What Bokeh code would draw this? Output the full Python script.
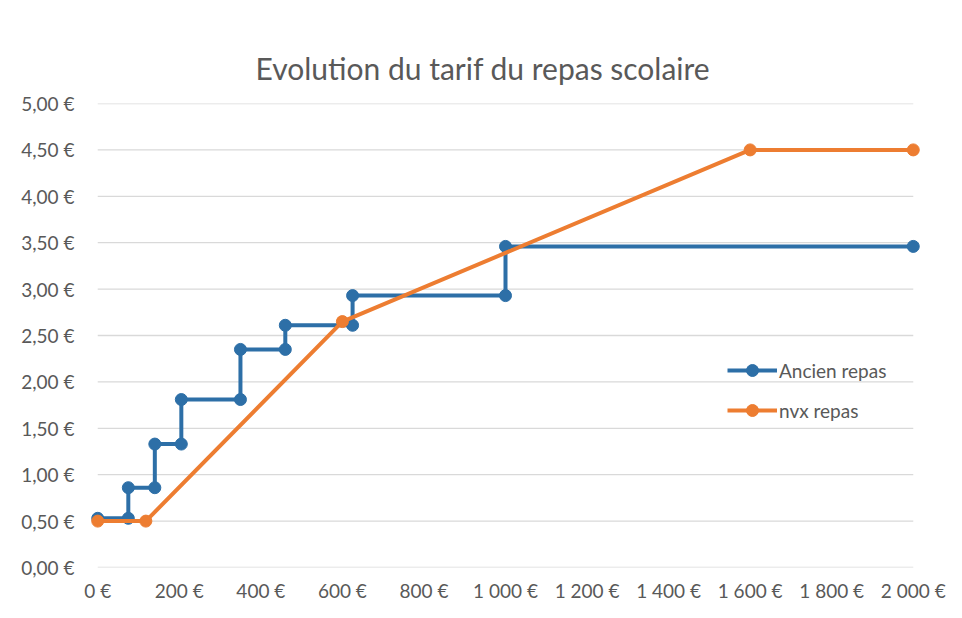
from bokeh.plotting import figure
from bokeh.models import FixedTicker, Legend, LegendItem, Range1d
from bokeh.embed import file_html
from bokeh.resources import INLINE

# ---- data ----
title_text = "Evolution du tarif du repas scolaire"
ancien_x = [0, 75, 75, 140, 140, 205, 205, 350, 350, 460, 460, 625, 625, 1000, 1000, 2000]
ancien_y = [0.53, 0.53, 0.86, 0.86, 1.33, 1.33, 1.81, 1.81, 2.35, 2.35, 2.61, 2.61, 2.93, 2.93, 3.46, 3.46]
nvx_x = [0, 118, 600, 1600, 2000]
nvx_y = [0.50, 0.50, 2.65, 4.50, 4.50]
x_ticks = [0, 200, 400, 600, 800, 1000, 1200, 1400, 1600, 1800, 2000]
x_labels = ["0 €", "200 €", "400 €", "600 €", "800 €", "1 000 €", "1 200 €", "1 400 €", "1 600 €", "1 800 €", "2 000 €"]
y_ticks = [0.0, 0.5, 1.0, 1.5, 2.0, 2.5, 3.0, 3.5, 4.0, 4.5, 5.0]
y_labels = ["0,00 €", "0,50 €", "1,00 €", "1,50 €", "2,00 €", "2,50 €", "3,00 €", "3,50 €", "4,00 €", "4,50 €", "5,00 €"]
series_names = ["Ancien repas", "nvx repas"]

BLUE = "#2D6FA7"
ORANGE = "#ED7D31"
TXT = "#595959"
GRID = "#d9d9d9"
FONT = "Lato"

p = figure(
    frame_width=840, frame_height=464,
    x_range=Range1d(-30, 2030), y_range=Range1d(0, 5),
    output_backend="svg", toolbar_location=None,
    min_border_left=85, min_border_right=30, min_border_top=103, min_border_bottom=50,
)
p.outline_line_color = None
p.xgrid.visible = False
p.ygrid.visible = False

p.title.text = title_text
p.title.text_font = FONT
p.title.text_font_size = "30px"
p.title.text_font_style = "normal"
p.title.text_color = TXT
p.title.align = "left"
p.title.offset = 170
p.title.standoff = 35

for ax in (p.xaxis[0], p.yaxis[0]):
    ax.axis_line_color = None
    ax.major_tick_line_color = None
    ax.minor_tick_line_color = None
    ax.major_label_text_font = FONT
    ax.major_label_text_font_size = "19px"
    ax.major_label_text_color = TXT

p.xaxis[0].ticker = FixedTicker(ticks=x_ticks)
p.xaxis[0].major_label_overrides = {t: l for t, l in zip(x_ticks, x_labels)}
p.xaxis[0].major_label_standoff = 5
p.yaxis[0].ticker = FixedTicker(ticks=y_ticks)
p.yaxis[0].major_label_overrides = {t: l for t, l in zip(y_ticks, y_labels)}
p.yaxis[0].major_label_standoff = 5

# gridlines spanning exactly the data extent
p.segment(x0=[x_ticks[0]] * len(y_ticks), x1=[x_ticks[-1]] * len(y_ticks),
          y0=y_ticks, y1=y_ticks, line_color=GRID, line_width=1.3)

l1 = p.line(ancien_x, ancien_y, line_color=BLUE, line_width=4)
s1 = p.scatter(ancien_x, ancien_y, size=12, fill_color=BLUE, line_color=BLUE)
l2 = p.line(nvx_x, nvx_y, line_color=ORANGE, line_width=4)
s2 = p.scatter(nvx_x, nvx_y, size=12, fill_color=ORANGE, line_color=ORANGE)

legend = Legend(
    items=[LegendItem(label=series_names[0], renderers=[l1, s1]),
           LegendItem(label=series_names[1], renderers=[l2, s2])],
    location=(642, 142), orientation="vertical",
    glyph_width=50, glyph_height=30, label_height=30, spacing=10,
    label_standoff=2, padding=0, margin=0,
    border_line_color=None, background_fill_alpha=0,
    label_text_font=FONT, label_text_font_size="19px", label_text_color=TXT,
)
p.add_layout(legend, "center")

open("out.html", "w").write(file_html(p, INLINE))
